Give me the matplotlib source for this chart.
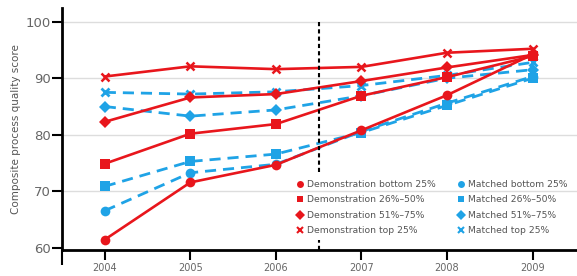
import matplotlib.pyplot as plt
from matplotlib.lines import Line2D

years = [2004, 2005, 2006, 2007, 2008, 2009]

demo_bottom = [61.5, 71.6, 74.7, 80.8, 87.0, 94.2]
demo_26_50 = [74.9, 80.2, 81.9, 86.9, 90.2, 93.9]
demo_51_75 = [82.3, 86.6, 87.2, 89.5, 91.9, 94.1]
demo_top = [90.3, 92.1, 91.6, 92.0, 94.5, 95.2]

match_bottom = [66.6, 73.3, 74.8, 80.6, 85.6, 90.3]
match_26_50 = [70.9, 75.3, 76.6, 80.4, 85.2, 90.0]
match_51_75 = [85.0, 83.3, 84.4, 86.9, 90.0, 91.5]
match_top = [87.5, 87.2, 87.6, 88.7, 90.5, 92.8]

labels_demo = ["Demonstration bottom 25%", "Demonstration 26%\u201350%",
               "Demonstration 51%\u201375%", "Demonstration top 25%"]
labels_match = ["Matched bottom 25%", "Matched 26%\u201350%",
                "Matched 51%\u201375%", "Matched top 25%"]

red = "#e8161c"
blue = "#1fa3e6"
grey = "#555555"
markers = ["o", "s", "D", "x"]
msizes = [7, 7, 6, 6]

fig = plt.figure(figsize=(5.77, 2.76), dpi=100)
ax = fig.add_axes([0.1075, 0.094, 0.8925, 0.877])

for vals, m, ms in zip([match_bottom, match_26_50, match_51_75, match_top], markers, msizes):
    ax.plot(years, vals, color=blue, lw=2, ls=(0, (4, 2.5)), marker=m, ms=ms,
            mew=2 if m == "x" else 0, zorder=3)
for vals, m, ms in zip([demo_bottom, demo_26_50, demo_51_75, demo_top], markers, msizes):
    ax.plot(years, vals, color=red, lw=1.9, marker=m, ms=ms,
            mew=1.8 if m == "x" else 0, zorder=4)

# period divider, broken where the legend sits
ax.vlines(2006.5, 73.4, 100, color="black", lw=1.5, ls=(0, (2, 1.5)), zorder=5)
ax.vlines(2006.5, 59.65, 61.4, color="black", lw=1.5, ls=(0, (2, 1.5)), zorder=5)

ax.set_xlim(2003.5, 2009.52)
ax.set_ylim(59.65, 102.4)
ax.set_yticks([60, 70, 80, 90, 100])
ax.set_xticks(years)
ax.set_xticks([2003.5], minor=True)
for y in [70, 80, 90, 100]:
    ax.axhline(y, color="#dddddd", lw=1, zorder=1)

for s in ["top", "right"]:
    ax.spines[s].set_visible(False)
for s in ["left", "bottom"]:
    ax.spines[s].set_linewidth(2)
ax.tick_params(axis="both", which="both", direction="out", width=1.5,
               colors="black", labelcolor="#666666")
ax.tick_params(axis="y", labelsize=9.5, pad=1, length=7)
ax.tick_params(axis="x", labelsize=7, pad=2, length=7)
ax.tick_params(axis="x", which="minor", length=11)
ax.set_ylabel("Composite process quality score", color=grey, fontsize=7.5, labelpad=3)

handles = []
for lab, m in zip(labels_demo, markers):
    handles.append(Line2D([], [], color=red, ls="none", marker=m, ms=5,
                          mew=1.5 if m == "x" else 0, label=lab))
for lab, m in zip(labels_match, markers):
    handles.append(Line2D([], [], color=blue, ls="none", marker=m, ms=5,
                          mew=1.5 if m == "x" else 0, label=lab))
leg = ax.legend(handles=handles, ncol=2, frameon=False, fontsize=6.7,
                loc="lower left", bbox_to_anchor=(0.447, 0.045),
                handlelength=0.8, handletextpad=0.4, columnspacing=2.3,
                labelspacing=0.7, borderaxespad=0)
for t in leg.get_texts():
    t.set_color(grey)

plt.savefig("out.png", dpi=100)
